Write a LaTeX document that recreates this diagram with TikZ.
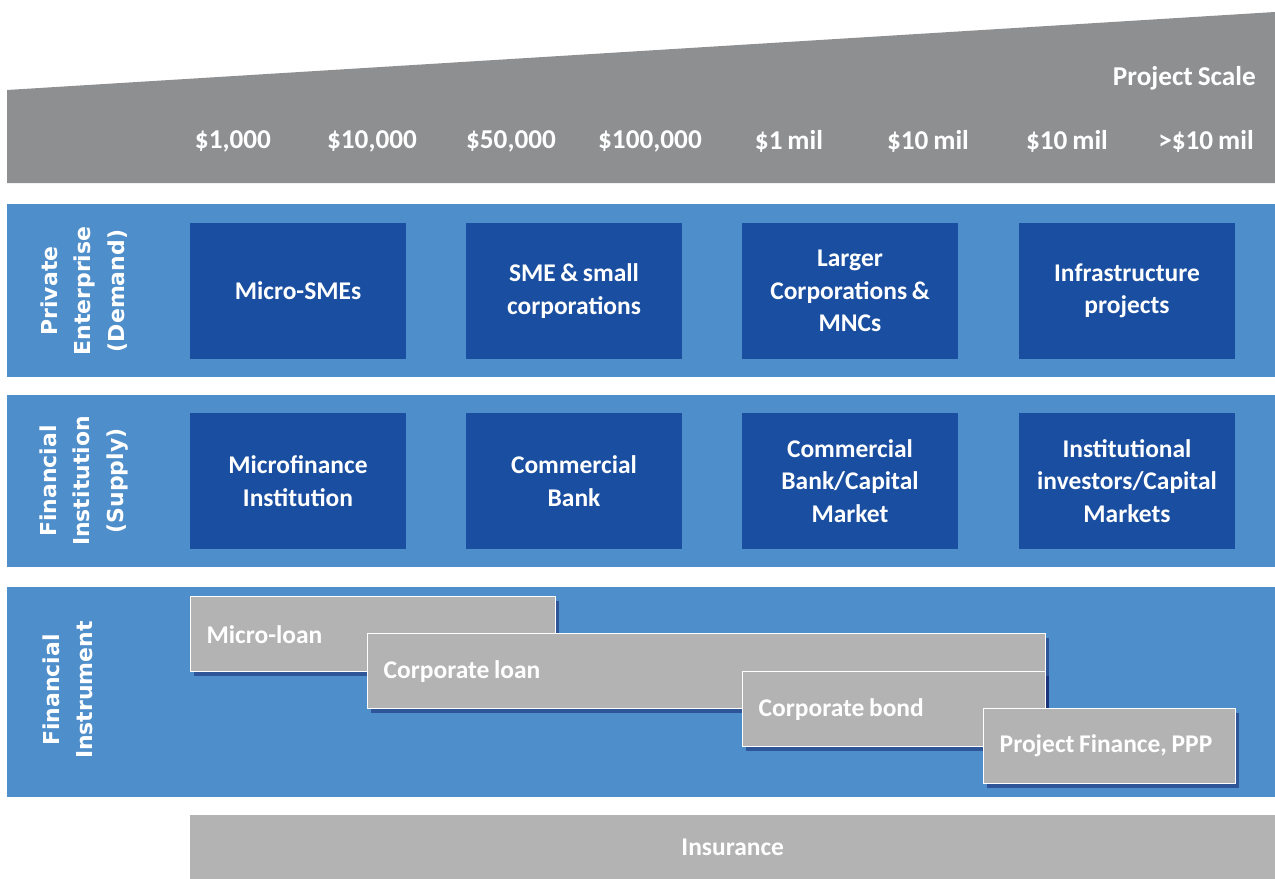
\documentclass[tikz,border=0pt]{standalone}
\usepackage{fontspec}
\setmainfont{Carlito}[WordSpace=0.8]
\newfontfamily\sidefont{DejaVu Sans}
\usepackage{tikz}
\usetikzlibrary{shadows}

\definecolor{scalegray}{HTML}{8E8F91}
\definecolor{bandblue}{HTML}{4E8ECB}
\definecolor{boxblue}{HTML}{1A4EA0}
\definecolor{instrgray}{HTML}{B3B3B3}

\begin{document}
\begin{tikzpicture}[x=0.02cm, y=-0.02cm,
    every node/.style={text=white, font=\fontsize{14.5}{18.5}\selectfont\bfseries},
    top/.style={font=\fontsize{15.5}{18.5}\selectfont\bfseries},
    band/.style={fill=bandblue, anchor=north west, minimum width=25.36cm, inner sep=0},
    side/.style={rotate=90, align=center, font=\sidefont\fontsize{12.5}{19}\selectfont\bfseries},
    party/.style={fill=boxblue, minimum width=4.32cm, minimum height=2.72cm, align=center, inner sep=0},
    instr/.style 2 args={fill=instrgray, draw=white, line width=0.8pt, anchor=north west,
        minimum width=#1, text width=#2, minimum height=1.5cm, inner xsep=0.32cm, align=flush left,
        drop shadow={shadow xshift=2pt, shadow yshift=-2.5pt, opacity=0.4, fill=black!70!blue}}]
    \useasboundingbox (0,0) rectangle (1275,879);

    % project scale wedge
    \fill[scalegray] (7,90) -- (1275,12) -- (1275,183) -- (7,183) -- cycle;
    \node[top, anchor=east] (scale) at (1262,78) {Project Scale};
    \foreach \v [count=\i] in {{\$1,000},{\$10,000},{\$50,000},{\$100,000},
                               {\$1 mil},{\$10 mil},{\$10 mil},{>\$10 mil}}
        \node[top] (p\i) at ({233+139*(\i-1)},141) {\v};

    % rows
    \node[band, minimum height=3.46cm] (demand) at (7,204) {};
    \node[band, minimum height=3.44cm] (supply) at (7,395) {};
    \node[band, minimum height=4.2cm]  (instrument) at (7,587) {};
    \node[side] (ldemand) at (84,291) {Private\\Enterprise\\(Demand)};
    \node[side] (lsupply) at (84,481) {Financial\\Institution\\(Supply)};
    \node[side] (linstrument) at (68,690) {Financial\\Instrument};

    \node[party] (d1) at (298,291) {Micro-SMEs};
    \node[party] (d2) at (574,291) {SME \& small\\corporations};
    \node[party] (d3) at (850,291) {Larger\\Corporations \&\\MNCs};
    \node[party] (d4) at (1127,291) {Infrastructure\\projects};

    \node[party] (s1) at (298,481) {Microfinance\\Institution};
    \node[party] (s2) at (574,481) {Commercial\\Bank};
    \node[party] (s3) at (850,481) {Commercial\\Bank/Capital\\Market};
    \node[party] (s4) at (1127,481) {Institutional\\investors/Capital\\Markets};

    \node[instr={7.30cm}{6.66cm}] (microloan) at (190,596) {Micro-loan};
    \node[instr={13.56cm}{12.92cm}] (corploan) at (367,633) {Corporate loan};
    \node[instr={6.06cm}{5.42cm}] (corpbond) at (742,671) {Corporate bond};
    \node[instr={5.04cm}{4.40cm}] (projfin) at (983,708) {\mbox{Project Finance, PPP}};

    \node[fill=instrgray, anchor=north west, minimum width=21.7cm, minimum height=1.28cm]
        (insurance) at (190,815) {Insurance};
\end{tikzpicture}
\end{document}
